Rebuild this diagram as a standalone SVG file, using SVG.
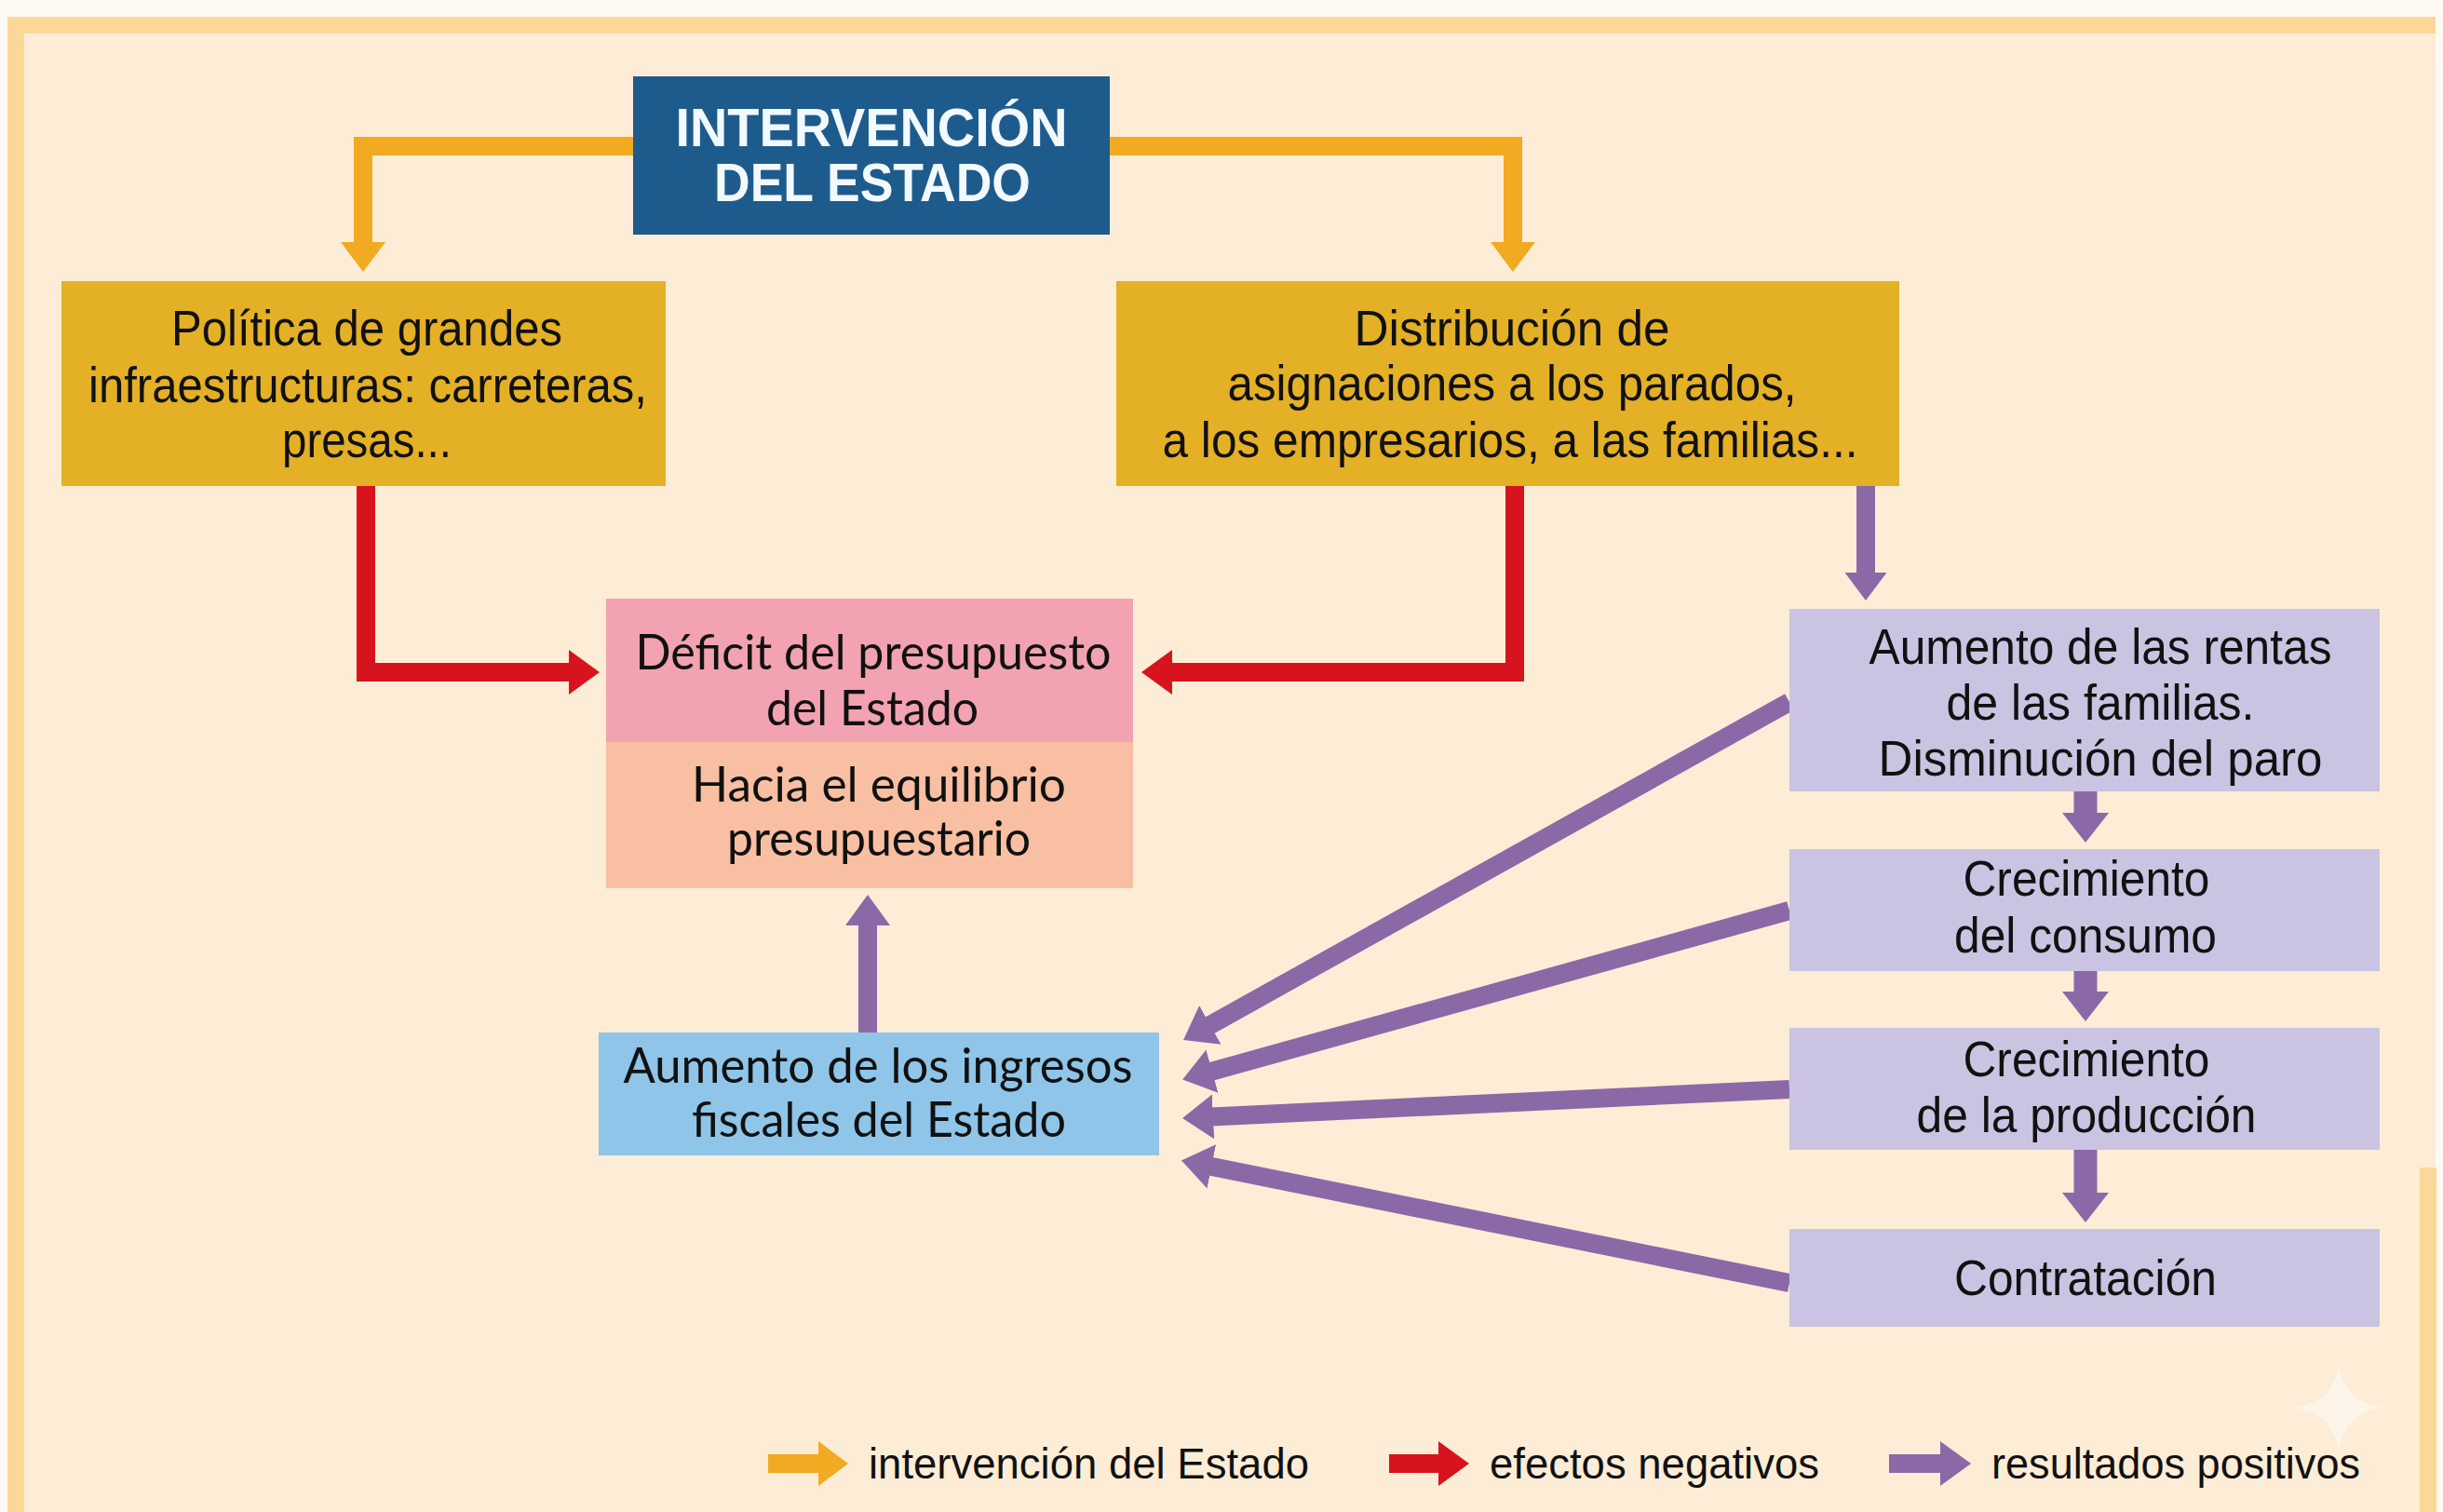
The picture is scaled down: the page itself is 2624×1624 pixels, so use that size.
<svg xmlns="http://www.w3.org/2000/svg" width="2624" height="1624" viewBox="0 0 2624 1624">
<style>
.t{font-family:"Liberation Sans",Arial,sans-serif;font-size:54px;fill:#111;text-anchor:middle}
.m{font-family:Lato,"Open Sans",sans-serif;font-size:53px;fill:#111;text-anchor:middle}
.ti{font-family:"Liberation Sans",Arial,sans-serif;font-weight:bold;font-size:58px;fill:#f2f9ff;text-anchor:middle}
.lg{font-family:"Liberation Sans",Arial,sans-serif;font-size:47px;fill:#111}
.co{fill:none;stroke-linejoin:miter;stroke-linecap:butt}
.o{stroke:#f2aa22;stroke-width:20}
.r{stroke:#d7141e;stroke-width:20}
.p{stroke:#8b69a7;stroke-width:20}
.pv{stroke:#8b69a7;stroke-width:25}
</style>
<defs>
<marker id="hO" markerUnits="userSpaceOnUse" viewBox="0 -30 40 60" markerWidth="40" markerHeight="60" refX="1" refY="0" orient="auto"><path d="M0,-24 L32,0 L0,24 Z" fill="#f2aa22"/></marker>
<marker id="hR" markerUnits="userSpaceOnUse" viewBox="0 -30 40 60" markerWidth="40" markerHeight="60" refX="1" refY="0" orient="auto"><path d="M0,-24 L33,0 L0,24 Z" fill="#d7141e"/></marker>
<marker id="hP" markerUnits="userSpaceOnUse" viewBox="0 -30 40 60" markerWidth="40" markerHeight="60" refX="1" refY="0" orient="auto"><path d="M0,-24 L33,0 L0,24 Z" fill="#8b69a7"/></marker>
<marker id="hPs" markerUnits="userSpaceOnUse" viewBox="0 -30 40 60" markerWidth="40" markerHeight="60" refX="1" refY="0" orient="auto"><path d="M0,-22.5 L30,0 L0,22.5 Z" fill="#8b69a7"/></marker>
<marker id="hPv" markerUnits="userSpaceOnUse" viewBox="0 -30 40 60" markerWidth="40" markerHeight="60" refX="1" refY="0" orient="auto"><path d="M0,-25 L32,0 L0,25 Z" fill="#8b69a7"/></marker>
</defs>

<g id="background">
<rect x="0" y="0" width="2624" height="1624" fill="#fefaf3"/>
<rect x="8" y="18" width="2608" height="1606" fill="#fdedd6"/>
<rect x="8" y="18" width="2608" height="18" fill="#fcd898"/>
<rect x="8" y="18" width="18" height="1606" fill="#fcd898"/>
<rect x="2599" y="1254" width="18" height="370" fill="#fcd898"/>
<path d="M2512,1464 Q2517,1507 2560,1512 Q2517,1517 2512,1560 Q2507,1517 2464,1512 Q2507,1507 2512,1464 Z" fill="#fdf5ea"/>
</g>

<g id="connectors">
<path class="co o" d="M680,157 H390 V261" marker-end="url(#hO)"/>
<path class="co o" d="M1192,157 H1625 V261" marker-end="url(#hO)"/>
<path class="co r" d="M393,522 V722 H612" marker-end="url(#hR)"/>
<path class="co r" d="M1627,522 V722 H1258" marker-end="url(#hR)"/>
<path class="co p" d="M2004,522 V616" marker-end="url(#hPs)"/>
<path class="co pv" d="M2240,850 V874" marker-end="url(#hPv)"/>
<path class="co pv" d="M2240,1043 V1066" marker-end="url(#hPv)"/>
<path class="co pv" d="M2240,1235 V1282" marker-end="url(#hPv)"/>
<path class="co p" d="M932,1109 V993" marker-end="url(#hP)"/>
<path class="co p" d="M1922,754 L1299,1101.4" marker-end="url(#hP)"/>
<path class="co p" d="M1922,978 L1301,1150.9" marker-end="url(#hP)"/>
<path class="co p" d="M1922,1170 L1302,1199.4" marker-end="url(#hP)"/>
<path class="co p" d="M1922,1378 L1300.3,1252.7" marker-end="url(#hP)"/>
</g>

<g id="node-intervencion">
<rect x="680" y="82" width="512" height="170" fill="#1e5b8d"/>
<text class="ti"><tspan x="936" y="157" textLength="421" lengthAdjust="spacingAndGlyphs">INTERVENCIÓN</tspan><tspan x="937" y="216" textLength="340" lengthAdjust="spacingAndGlyphs">DEL ESTADO</tspan></text>
</g>

<g id="node-politica">
<rect x="66" y="302" width="649" height="220" fill="#e3b026"/>
<text class="t" x="394" y="371" textLength="420" lengthAdjust="spacingAndGlyphs">Política de grandes</text>
<text class="t" x="395" y="432" textLength="600" lengthAdjust="spacingAndGlyphs">infraestructuras: carreteras,</text>
<text class="t" x="394" y="491" textLength="182" lengthAdjust="spacingAndGlyphs">presas...</text>
</g>

<g id="node-distribucion">
<rect x="1199" y="302" width="841" height="220" fill="#e3b026"/>
<text class="t" x="1624" y="371" textLength="339" lengthAdjust="spacingAndGlyphs">Distribución de</text>
<text class="t" x="1624" y="430" textLength="611" lengthAdjust="spacingAndGlyphs">asignaciones a los parados,</text>
<text class="t" x="1622" y="491" textLength="747" lengthAdjust="spacingAndGlyphs">a los empresarios, a las familias...</text>
</g>

<g id="node-deficit">
<rect x="651" y="643" width="566" height="155" fill="#f2a2b0"/>
<text class="m" x="938" y="719" textLength="511" lengthAdjust="spacingAndGlyphs">Déficit del presupuesto</text>
<text class="m" x="937" y="779" textLength="228" lengthAdjust="spacingAndGlyphs">del Estado</text>
</g>

<g id="node-equilibrio">
<rect x="651" y="797" width="566" height="157" fill="#f8bfa2"/>
<text class="m" x="944" y="861" textLength="402" lengthAdjust="spacingAndGlyphs">Hacia el equilibrio</text>
<text class="m" x="944" y="919" textLength="326" lengthAdjust="spacingAndGlyphs">presupuestario</text>
</g>

<g id="node-ingresos">
<rect x="643" y="1109" width="602" height="132" fill="#8ec5e8"/>
<text class="m" x="943" y="1163" textLength="547" lengthAdjust="spacingAndGlyphs">Aumento de los ingresos</text>
<text class="m" x="944" y="1221" textLength="402" lengthAdjust="spacingAndGlyphs">fiscales del Estado</text>
</g>

<g id="node-rentas">
<rect x="1922" y="654" width="634" height="196" fill="#cac4e2"/>
<text class="t" x="2256" y="713" textLength="497" lengthAdjust="spacingAndGlyphs">Aumento de las rentas</text>
<text class="t" x="2256" y="773" textLength="331" lengthAdjust="spacingAndGlyphs">de las familias.</text>
<text class="t" x="2256" y="833" textLength="477" lengthAdjust="spacingAndGlyphs">Disminución del paro</text>
</g>

<g id="node-consumo">
<rect x="1922" y="912" width="634" height="131" fill="#cac4e2"/>
<text class="t" x="2241" y="962" textLength="265" lengthAdjust="spacingAndGlyphs">Crecimiento</text>
<text class="t" x="2240" y="1023" textLength="282" lengthAdjust="spacingAndGlyphs">del consumo</text>
</g>

<g id="node-produccion">
<rect x="1922" y="1104" width="634" height="131" fill="#cac4e2"/>
<text class="t" x="2241" y="1156" textLength="265" lengthAdjust="spacingAndGlyphs">Crecimiento</text>
<text class="t" x="2241" y="1216" textLength="365" lengthAdjust="spacingAndGlyphs">de la producción</text>
</g>

<g id="node-contratacion">
<rect x="1922" y="1320" width="634" height="105" fill="#cac4e2"/>
<text class="t" x="2240" y="1391" textLength="282" lengthAdjust="spacingAndGlyphs">Contratación</text>
</g>

<g id="legend">
<path class="co o" d="M825,1572 H880" marker-end="url(#hO)"/>
<text class="lg" x="933" y="1588" textLength="473" lengthAdjust="spacingAndGlyphs">intervención del Estado</text>
<path class="co r" d="M1492,1572 H1546" marker-end="url(#hR)"/>
<text class="lg" x="1600" y="1588" textLength="354" lengthAdjust="spacingAndGlyphs">efectos negativos</text>
<path class="co p" d="M2029,1572 H2085" marker-end="url(#hP)"/>
<text class="lg" x="2139" y="1588" textLength="396" lengthAdjust="spacingAndGlyphs">resultados positivos</text>
</g>
</svg>
